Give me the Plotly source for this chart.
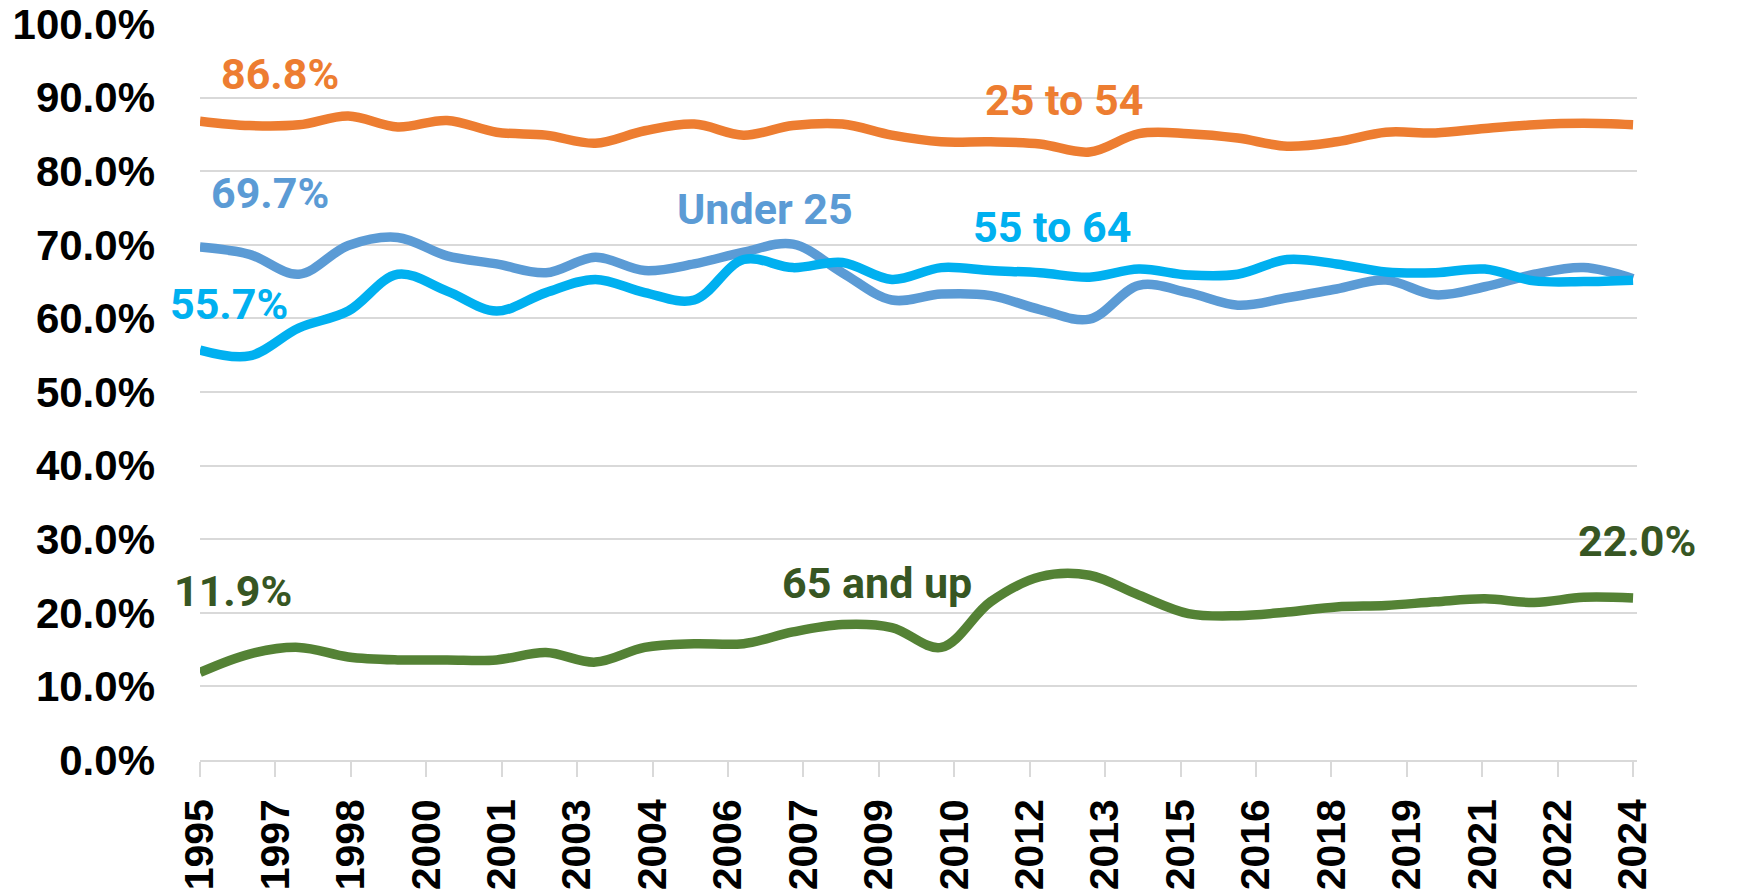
import plotly.graph_objects as go

years = list(range(1995, 2025))

under_25 = [69.7, 68.7, 66.0, 69.9, 71.0, 68.5, 67.4, 66.2, 68.3, 66.5,
            67.4, 69.0, 70.1, 66.2, 62.5, 63.3, 63.1, 61.2, 59.9, 64.5,
            63.5, 61.8, 62.8, 64.0, 65.2, 63.2, 64.3, 66.0, 66.9, 65.4]

age_25_54 = [86.8, 86.2, 86.3, 87.5, 86.0, 86.9, 85.3, 84.9, 83.8, 85.5,
             86.4, 84.9, 86.2, 86.4, 84.9, 84.0, 84.0, 83.7, 82.6, 85.1,
             85.1, 84.5, 83.4, 84.0, 85.3, 85.2, 85.8, 86.3, 86.5, 86.3]

age_55_64 = [55.7, 54.9, 58.7, 61.0, 66.0, 63.7, 61.0, 63.5, 65.3, 63.5,
             62.5, 68.0, 66.9, 67.6, 65.3, 66.9, 66.5, 66.2, 65.6, 66.7,
             65.9, 66.0, 68.0, 67.4, 66.3, 66.2, 66.7, 65.1, 65.0, 65.2]

age_65_up = [11.9, 14.4, 15.3, 14.0, 13.6, 13.6, 13.6, 14.6, 13.3, 15.3,
             15.8, 15.8, 17.4, 18.4, 18.0, 15.3, 21.5, 24.9, 25.1, 22.4,
             19.9, 19.6, 20.1, 20.8, 21.0, 21.5, 21.9, 21.4, 22.1, 22.0]

tick_labels = ["1995", "1997", "1998", "2000", "2001", "2003", "2004", "2006",
               "2007", "2009", "2010", "2012", "2013", "2015", "2016", "2018",
               "2019", "2021", "2022", "2024"]

series_names = ["Under 25", "25 to 54", "55 to 64", "65 and up"]
series_values = [under_25, age_25_54, age_55_64, age_65_up]
line_colors = ["#5B9BD5", "#ED7D31", "#00B0F0", "#548235"]
text_colors = ["#5B9BD5", "#ED7D31", "#00B0F0", "#375623"]

# annotation texts and placements (series index, text, x, y)
label_texts = ["86.8%", "69.7%", "55.7%", "11.9%",
               "25 to 54", "Under 25", "55 to 64", "65 and up",
               "86.3%", "65.4%", "65.2%", "22.0%"]
label_series = [1, 0, 2, 3, 1, 0, 2, 3, 1, 0, 2, 3]
label_x = [1996.61, 1996.42, 1995.58, 1995.66,
           2012.48, 2006.43, 2012.24, 2008.70,
           2024.13, 2024.73, 2024.18, 2024.07]
label_y = [93.2, 77.0, 62.0, 22.9,
           89.7, 74.9, 72.4, 24.1,
           93.5, 74.6, 57.9, 29.8]

fig = go.Figure()
for name, vals, col in zip(series_names, series_values, line_colors):
    fig.add_trace(go.Scatter(
        x=years, y=vals, mode="lines", name=name,
        line=dict(color=col, width=9.5, shape="spline", smoothing=1.0),
        hoverinfo="x+y+name"))

for t, s, ax, ay in zip(label_texts, label_series, label_x, label_y):
    fig.add_annotation(x=ax, y=ay, text=t, showarrow=False,
                       xanchor="center", yanchor="middle",
                       font=dict(family="Roboto, Arial, sans-serif", size=43,
                                 color=text_colors[s], weight="bold"))

n_ticks = len(tick_labels)
first, last = years[0], years[-1]
tickvals = [first + j * (last - first) / (n_ticks - 1) for j in range(n_ticks)]

fig.update_layout(
    width=1750, height=890,
    margin=dict(l=200, r=113, t=24, b=130),
    plot_bgcolor="white", paper_bgcolor="white",
    showlegend=False,
    xaxis=dict(
        range=[first, last + 0.08], automargin=False,
        tickmode="array", tickvals=tickvals, ticktext=tick_labels,
        tickangle=-90, ticks="outside", ticklen=15, tickwidth=1.5,
        tickcolor="#D9D9D9", showgrid=False,
        showline=True, linecolor="#D9D9D9", linewidth=1.5,
        tickfont=dict(family="Liberation Sans, Arial, sans-serif", size=41,
                      color="black", weight="bold"),
        ticklabelstandoff=6,
        zeroline=False,
    ),
    yaxis=dict(
        range=[0, 100], tickmode="array", automargin=False,
        tickvals=[0, 10, 20, 30, 40, 50, 60, 70, 80, 90, 100],
        ticktext=["0.0%", "10.0%", "20.0%", "30.0%", "40.0%", "50.0%",
                  "60.0%", "70.0%", "80.0%", "90.0%", "100.0%"],
        showgrid=True, gridcolor="#D9D9D9", gridwidth=1.5,
        zeroline=False, showline=False,
        tickfont=dict(family="Liberation Sans, Arial, sans-serif", size=42,
                      color="black", weight="bold"),
        ticklabelstandoff=44,
    ),
)

fig.write_html(
    "out.html",
    config={"displayModeBar": False},
    post_script="document.body.style.margin='0';document.body.style.overflow='hidden';",
)
